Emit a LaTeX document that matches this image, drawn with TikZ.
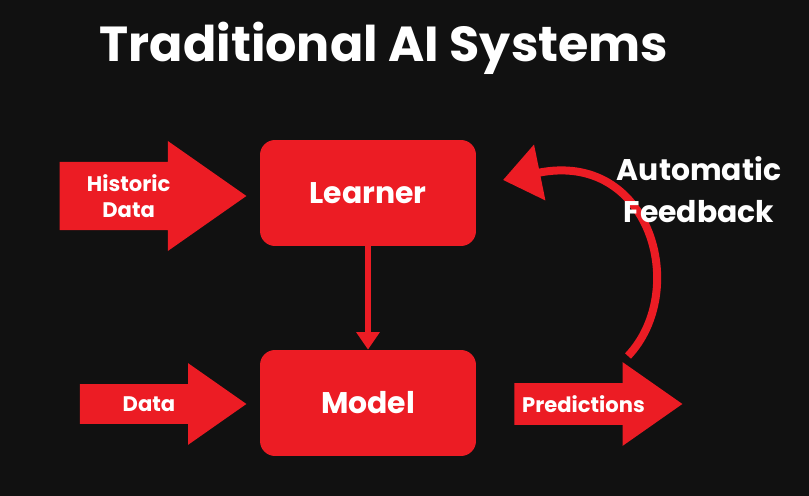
\documentclass[tikz,border=0pt]{standalone}
\usepackage{fontspec}
\setmainfont{Poppins}
\usetikzlibrary{shapes.arrows,arrows.meta}
\definecolor{bgdark}{HTML}{111111}
\definecolor{boxred}{HTML}{EC1C24}
\begin{document}
\begin{tikzpicture}[x=0.02cm,y=-0.02cm,
	box/.style={fill=boxred,rounded corners=0.3cm,minimum width=4.32cm,minimum height=2.12cm,text=white,font=\bfseries\fontsize{17}{20}\selectfont},
	bigarrow/.style={single arrow,fill=boxred,text=white,font=\bfseries\fontsize{12}{15}\selectfont,
		single arrow head extend=0.42cm,single arrow tip angle=70,
		inner ysep=0.24cm,inner xsep=0cm,text width=2.75cm,align=center,anchor=tip}]
	\fill[bgdark] (0,0) rectangle (809,496);
	\useasboundingbox (0,0) rectangle (809,496);
	
	\node[text=white,font=\bfseries\fontsize{28}{34}\selectfont] (title) at (384,48) {Traditional AI Systems};
	
	\node[box] (learner) at (368,193) {Learner};
	\node[box] (model) at (368,403) {Model};
	
	\node[bigarrow] (histarrow) at (247,196) {Historic Data};
	\node[bigarrow] (dataarrow) at (247,404) {Data};
	\node[bigarrow] (predarrow) at (683,404) {Predictions};
	
	\draw[boxred,line width=0.12cm,-{Triangle[length=0.35cm,width=0.45cm]}] (learner.south) -- (model.north);
	
	\coordinate (fbstart) at (628,356);
	\coordinate (fbend) at (503,180);
	\draw[boxred,line width=0.16cm,-{Triangle[length=0.75cm,width=1.1cm]}] (fbstart) .. controls (690,290) and (650,150) .. (fbend);
	
	\node[text=white,font=\bfseries\fontsize{17}{24}\selectfont,align=center] (fblabel) at (699,190) {Automatic\\Feedback};
\end{tikzpicture}
\end{document}
